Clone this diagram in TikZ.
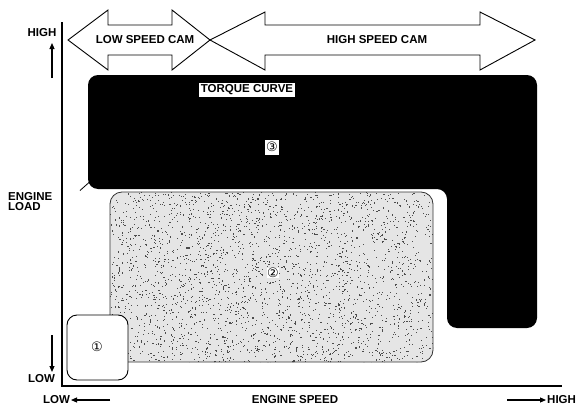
\documentclass[tikz,border=0pt]{standalone}
\usepackage{fontspec}
\setmainfont{Liberation Sans}
\newfontfamily\symfont{DejaVu Sans}
\usetikzlibrary{arrows.meta}
\begin{document}
\begin{tikzpicture}[x=1pt,y=-1pt,
  lbl/.style={font=\bfseries\fontsize{11.5}{12}\selectfont, inner sep=0pt},
  bigarrow/.style={draw=black, line width=0.9pt, fill=white, line join=miter},
  axisline/.style={line width=1.5pt},
  dirarrow/.style={line width=1.1pt, -{Triangle[length=6pt,width=5pt]}},
  num/.style={font=\symfont\fontsize{13}{14}\selectfont, inner sep=1pt},
  speck/.style={fill=black!70}]
\useasboundingbox (0,0) rectangle (587,415);

% cam arrows
\path[bigarrow] (68,40) -- (108,10) -- (108,25) -- (172,25) -- (172,10) -- (210,40)
  -- (172,70) -- (172,55) -- (108,55) -- (108,70) -- cycle;
\path[bigarrow] (210,40) -- (265,12) -- (265,25) -- (480,25) -- (480,12) -- (535,40)
  -- (480,70) -- (480,55) -- (265,55) -- (265,70) -- cycle;
\node[lbl] (lsc) at (145,40) {LOW SPEED CAM};
\node[lbl] (hsc) at (377,40) {HIGH SPEED CAM};

% region 3 (torque curve, dark)
\fill[black, rounded corners=10pt] (88,75) -- (537,75) -- (537,328) -- (447,328)
  -- (447,189) -- (88,189) -- cycle;
\draw[line width=0.8pt] (80,190.5) -- (89,182.5);
\node[lbl, fill=white, inner xsep=2pt, inner ysep=2pt] (tq) at (247,90) {TORQUE CURVE};
\node[num, fill=white, minimum width=14pt, minimum height=15pt] (n3) at (272,147) {③};

% region 2 (light, stippled)
\fill[black!10, rounded corners=12pt] (110,192) rectangle (433,362);
\begin{scope}
  \clip[rounded corners=12pt] (110,192) rectangle (433,362);
  \pgfmathsetseed{7}
  \foreach \i in {1,...,2600} {
    \pgfmathsetmacro{\px}{110+323*rnd}
    \pgfmathsetmacro{\py}{192+170*rnd}
    \fill[speck] (\px,\py) rectangle ++(1.1,1.1);
  }
\end{scope}
\draw[draw=black!80, line width=0.8pt, rounded corners=12pt]
  (110,192) rectangle (433,362);
\node[num, fill=white, inner sep=0.5pt] (n2) at (273,273) {②};

% region 1
\draw[fill=white, line width=0.9pt, rounded corners=10pt] (67,315) rectangle (128,380);
\node[num] (n1) at (97,347) {①};

% axes
\coordinate (otop) at (62,22);
\coordinate (orig) at (62,386);
\coordinate (xend) at (562,386);
\draw[axisline] (otop) -- (orig) -- (xend);

% vertical labels
\node[lbl] (yhigh) at (42,33) {HIGH};
\coordinate (upA) at (52,78);
\coordinate (upB) at (52,43);
\draw[dirarrow] (upA) -- (upB);
\node[lbl, align=left, anchor=west] (eload) at (8,201.5) {ENGINE\\[-1.5pt]LOAD};
\coordinate (dnA) at (52,335);
\coordinate (dnB) at (52,372);
\draw[dirarrow] (dnA) -- (dnB);
\node[lbl] (ylow) at (41.5,379) {LOW};

% horizontal labels
\node[lbl] (xlow) at (56.5,400) {LOW};
\coordinate (lA) at (110,400);
\coordinate (lB) at (71,400);
\draw[dirarrow] (lA) -- (lB);
\node[lbl] (espeed) at (295,400) {ENGINE SPEED};
\coordinate (rA) at (507,400);
\coordinate (rB) at (546,400);
\draw[dirarrow] (rA) -- (rB);
\node[lbl, anchor=west] (xhigh) at (547,400) {HIGH};
\end{tikzpicture}
\end{document}
